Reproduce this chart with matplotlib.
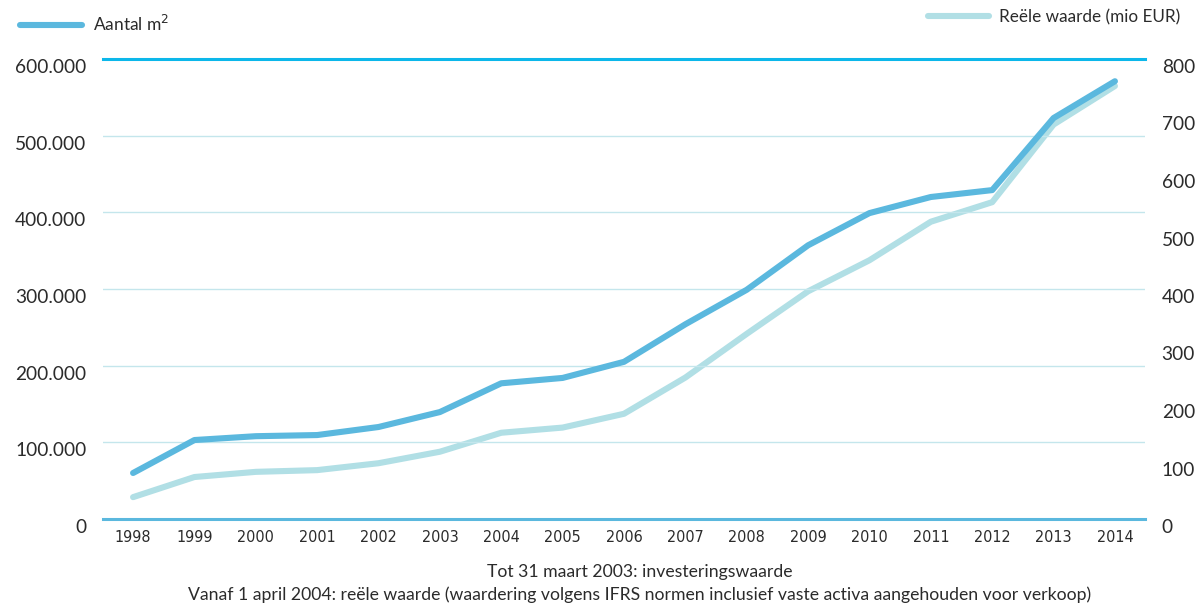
import matplotlib
matplotlib.use("Agg")
import matplotlib.pyplot as plt
from matplotlib.ticker import FuncFormatter

years = list(range(1998, 2015))
aantal_m2 = [60000, 103000, 108000, 109500, 120000, 139500, 177000, 184000, 205000,
             254000, 299000, 357000, 399000, 420000, 429000, 523000, 571000]
reele_waarde = [38, 73, 82, 85, 97, 117, 150, 159, 183,
                246, 322, 396, 450, 517, 551, 686, 753]

left_ticks = [0, 100000, 200000, 300000, 400000, 500000, 600000]
right_ticks = [0, 100, 200, 300, 400, 500, 600, 700, 800]

dark_blue = "#5bb8de"
light_blue = "#b1dfe5"
top_line = "#0cb7ea"
grid_col = "#c4e6ec"
txt = "#2b2b2b"

plt.rcParams['font.family'] = ['Lato', 'DejaVu Sans']

fig = plt.figure(figsize=(11.99, 6.07), dpi=100)
ax = fig.add_axes([103 / 1199, 1 - 519 / 607, (1145 - 103) / 1199, (519 - 59) / 607])
ax2 = ax.twinx()

line_m2, = ax.plot(years, aantal_m2, color=dark_blue, lw=4.4, solid_capstyle='round',
                   solid_joinstyle='round', label="Aantal m$^2$", zorder=3)
line_eur, = ax2.plot(years, reele_waarde, color=light_blue, lw=4.4, solid_capstyle='round',
                     solid_joinstyle='round', label="Reële waarde (mio EUR)", zorder=2)

ax.set_zorder(ax2.get_zorder() + 1)
ax.patch.set_visible(False)

ax.set_xlim(1997.51, 2014.49)
ax.set_ylim(0, 600000)
ax2.set_ylim(0, 800)

ax.set_yticks(left_ticks)
ax.yaxis.set_major_formatter(FuncFormatter(lambda v, p: f"{int(v):,}".replace(",", ".")))
ax2.set_yticks(right_ticks)
ax.set_xticks(years)
ax.set_xticklabels([str(y) for y in years], fontfamily=['Liberation Sans Narrow', 'DejaVu Sans'],
                   fontstretch='condensed', fontsize=11.5, color=txt)

for a in (ax, ax2):
    for s in ("left", "right", "top", "bottom"):
        a.spines[s].set_visible(False)
    a.tick_params(length=0)

ax.spines["top"].set_visible(True)
ax.spines["top"].set_color(top_line)
ax.spines["top"].set_linewidth(2.2)
ax.spines["bottom"].set_visible(True)
ax.spines["bottom"].set_color(dark_blue)
ax.spines["bottom"].set_linewidth(2.2)

for v in left_ticks[1:-1]:
    ax.axhline(v, color=grid_col, lw=1.0, zorder=0)

ax.tick_params(axis='y', labelsize=13.8, labelcolor=txt, pad=12)
ax2.tick_params(axis='y', labelsize=13.8, labelcolor=txt, pad=12)
for lab in ax.get_yticklabels() + ax2.get_yticklabels():
    lab.set_verticalalignment('top')

ax.tick_params(axis='x', pad=8)

fig.legend(handles=[line_m2], loc='center left', bbox_to_anchor=(4 / 1199, 1 - 24 / 607),
           frameon=False, fontsize=12.5, handlelength=3.6, handletextpad=0.6,
           labelcolor=txt)
fig.legend(handles=[line_eur], loc='center right', bbox_to_anchor=(1196 / 1199, 1 - 17 / 607),
           frameon=False, fontsize=12.3, handlelength=3.6, handletextpad=0.6,
           labelcolor=txt)

fig.text(640 / 1199, 1 - 572 / 607, "Tot 31 maart 2003: investeringswaarde",
         ha='center', va='center', fontsize=12.7, color=txt)
fig.text(640 / 1199, 1 - 595 / 607,
         "Vanaf 1 april 2004: reële waarde (waardering volgens IFRS normen inclusief vaste activa aangehouden voor verkoop)",
         ha='center', va='center', fontsize=12.7, color=txt)

fig.savefig("out.png", dpi=100)
